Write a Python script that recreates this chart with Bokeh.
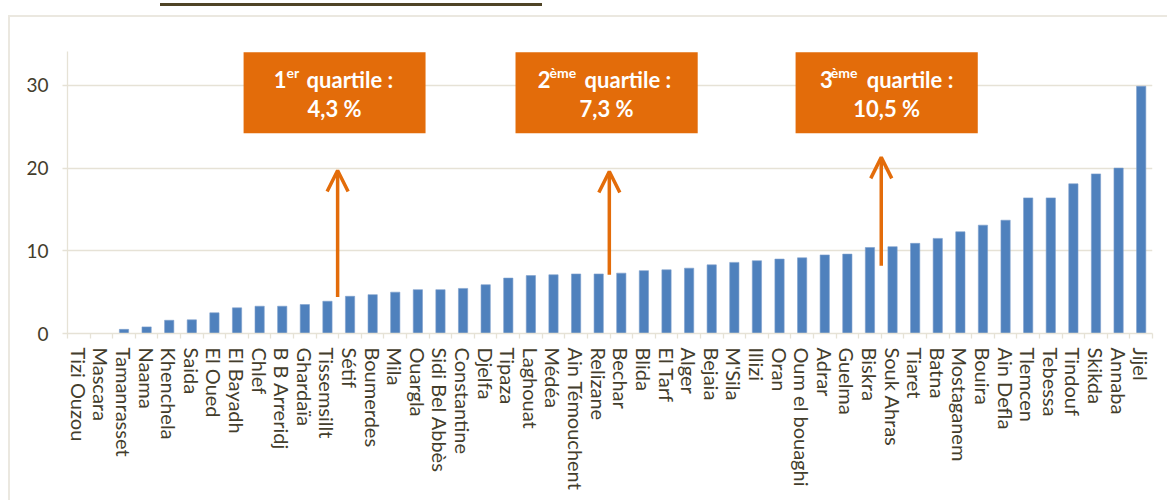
from bokeh.plotting import figure
from bokeh.models import (Range1d, FixedTicker, Label, BoxAnnotation, Arrow, OpenHead)
from bokeh.embed import file_html
from bokeh.resources import INLINE

regions = ["Tizi Ouzou", "Mascara", "Tamanrasset", "Naama", "Khenchela", "Saida",
           "El Oued", "El Bayadh", "Chlef", "B B Arreridj", "Ghardaïa", "Tissemsillt",
           "Sétif", "Boumerdes", "Mila", "Ouargla", "Sidi Bel Abbès", "Constantine",
           "Djelfa", "Tipaza", "Laghouat", "Médéa", "Ain Témouchent", "Relizane",
           "Bechar", "Blida", "El Tarf", "Alger", "Bejaia", "M'Sila", "Illizi", "Oran",
           "Oum el bouaghi", "Adrar", "Guelma", "Biskra", "Souk Ahras", "Tiaret",
           "Batna", "Mostaganem", "Bouira", "Ain Defla", "Tlemcen", "Tebessa",
           "Tindouf", "Skikda", "Annaba", "Jijel"]
values = [0, 0, 0.5, 0.8, 1.6, 1.65, 2.5, 3.1, 3.3, 3.3,
          3.5, 3.9, 4.5, 4.7, 5.0, 5.3, 5.3, 5.45, 5.9, 6.7,
          7.0, 7.1, 7.2, 7.2, 7.3, 7.6, 7.7, 7.9, 8.3, 8.6,
          8.8, 9.0, 9.15, 9.5, 9.6, 10.4, 10.5, 10.9, 11.5, 12.3,
          13.1, 13.7, 16.4, 16.4, 18.1, 19.3, 20.0, 29.9]
y_ticks = [0, 10, 20, 30]

quartile_rank = ["1", "2", "3"]
quartile_sup = ["er", "ème", "ème"]
quartile_value = ["4,3 %", "7,3 %", "10,5 %"]

ORANGE = "#E36C0A"
BLUE = "#4F81BD"
GRID = "#E6E2D6"
TXT = "#433D2C"
FONT = "Lato"

x_idx = list(range(len(regions)))

p = figure(width=1167, height=500, output_backend="svg", toolbar_location=None,
           x_range=Range1d(-0.5, len(regions) - 0.5), y_range=Range1d(0, 34.1),
           min_border_left=67, min_border_right=15, min_border_top=51,
           min_border_bottom=167)
p.outline_line_color = None
p.background_fill_color = "white"
p.border_fill_alpha = 0
# page decorations behind the transparent canvas border: title underline and outer frame
p.styles = {
    "background-color": "white",
    "background-image": ("linear-gradient(#4F4426, #4F4426), "
                         "linear-gradient(#EBE8E0, #EBE8E0), "
                         "linear-gradient(#EBE8E0, #EBE8E0)"),
    "background-size": "382px 3px, 1159px 2px, 2px 485px",
    "background-position": "160px 3px, 8px 15px, 8px 15px",
    "background-repeat": "no-repeat",
}

p.vbar(x=x_idx, top=values, width=0.41, fill_color=BLUE, line_color="#7E9FCC",
       line_width=0.6)

# x axis
xa = p.xaxis[0]
xa.ticker = FixedTicker(ticks=x_idx, minor_ticks=[i - 0.5 for i in range(len(regions) + 1)])
xa.major_label_overrides = {i: n for i, n in enumerate(regions)}
xa.major_label_orientation = "vertical"
xa.major_tick_line_color = None
xa.major_tick_out = 0
xa.major_tick_in = 0
xa.minor_tick_line_color = GRID
xa.minor_tick_out = 5
xa.minor_tick_in = 0
xa.minor_tick_line_width = 1.3
xa.axis_line_color = GRID
xa.axis_line_width = 1.3
xa.major_label_text_font = FONT
xa.major_label_text_font_size = "20px"
xa.major_label_text_color = TXT
xa.major_label_standoff = 9

# y axis
ya = p.yaxis[0]
ya.ticker = FixedTicker(ticks=y_ticks)
ya.axis_line_color = GRID
ya.axis_line_width = 1.3
ya.major_tick_line_color = GRID
ya.major_tick_line_width = 1.3
ya.major_tick_out = 5
ya.major_tick_in = 0
ya.minor_tick_line_color = None
ya.major_label_text_font = FONT
ya.major_label_text_font_size = "19px"
ya.major_label_text_color = TXT
ya.major_label_standoff = 14

p.xgrid.grid_line_color = None
p.ygrid.grid_line_color = GRID
p.ygrid.grid_line_width = 1.3
p.ygrid.ticker = FixedTicker(ticks=y_ticks)

# quartile boxes, arrows and labels
box_x = [(7.29, 15.34), (19.32, 27.38), (31.71, 39.77)]
arrow_x = [11.45, 23.47, 35.5]
arrow_y = [(4.4, 19.7), (7.1, 19.6), (8.2, 21.3)]
rank_right = [-48, -56, -54]
sup_left = [-48, -57, -56]
word_left = [-28, -22, -20]
LIFT = 7

for i in range(3):
    l, r = box_x[i]
    p.add_layout(BoxAnnotation(left=l, right=r, top=34.0, bottom=24.2,
                               fill_color=ORANGE, fill_alpha=1, line_color=None))
    cx = (l + r) / 2
    p.add_layout(Label(x=cx, y=29.87, x_offset=rank_right[i], y_offset=LIFT,
                       text=quartile_rank[i],
                       text_align="right", text_baseline="alphabetic",
                       text_font=FONT, text_font_style="bold",
                       text_font_size="22px", text_color="white"))
    p.add_layout(Label(x=cx, y=29.87, x_offset=sup_left[i], y_offset=LIFT + 7,
                       text=quartile_sup[i], text_align="left",
                       text_baseline="alphabetic", text_font=FONT,
                       text_font_style="bold", text_font_size="14px",
                       text_color="white"))
    p.add_layout(Label(x=cx, y=29.87, x_offset=word_left[i], y_offset=LIFT,
                       text="quartile :",
                       text_align="left", text_baseline="alphabetic",
                       text_font=FONT, text_font_style="bold",
                       text_font_size="22px", text_color="white"))
    p.add_layout(Label(x=cx, y=26.36, y_offset=LIFT, text=quartile_value[i],
                       text_align="center",
                       text_baseline="alphabetic", text_font=FONT,
                       text_font_style="bold", text_font_size="22px",
                       text_color="white"))
    p.add_layout(Arrow(end=OpenHead(size=21, line_color=ORANGE, line_width=3.5),
                       x_start=arrow_x[i], y_start=arrow_y[i][0],
                       x_end=arrow_x[i], y_end=arrow_y[i][1],
                       line_color=ORANGE, line_width=3.5))

open("out.html", "w").write(file_html(p, INLINE))
